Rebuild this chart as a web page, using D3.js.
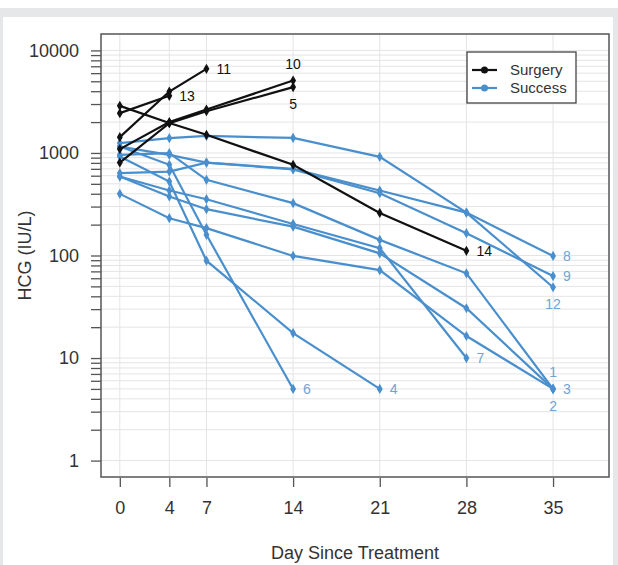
<!DOCTYPE html>
<html>
<head>
<meta charset="utf-8">
<script src="https://cdnjs.cloudflare.com/ajax/libs/d3/7.8.5/d3.min.js"></script>
<style>
    html, body { margin: 0; padding: 0; background: #fff; }
    svg { display: block; font-family: "Liberation Sans", Arial, sans-serif; }
</style>
</head>
<body>
<div id="chart"></div>
<script>
'use strict';

// Data
const days = [0, 4, 7, 14, 21, 28, 35];
const xTicks = [0, 4, 7, 14, 21, 28, 35];
const yTicks = [1, 10, 100, 1000, 10000];

const surgeryIds = ['10', '5', '11', '13', '14'];
const surgeryValues = [
    [1090, 2000, 2650, 5080],
    [806, 1950, 2550, 4385],
    [1426, 3970, 6610],
    [2445, 3610],
    [2880, 1960, 1503, 766, 260, 111]
];

const successIds = ['12', '8', '9', '1', '7', '2', '3', '6', '4'];
const successValues = [
    [1247, 1394, 1466, 1400, 916, 262, 49],
    [635, 658, 806, 700, 430, 262, 99],
    [1154, 958, 806, 690, 405, 165, 63],
    [958, 995, 547, 324, 142, 67, 5],
    [589, 430, 354, 203, 118, 10],
    [589, 376, 283, 191, 105, 30.6, 5],
    [399, 231, 185, 99, 72, 16.4, 5],
    [1154, 766, 159, 5],
    [922, 526, 89, 17.5, 5]
];

const legendLabels = ['Surgery', 'Success'];

/*
Chart
 */
class Chart {

    // Configs
    svgW = 618;
    svgH = 565;
    box = {left: 101, right: 609, top: 34, bottom: 477};
    black = '#111111';
    blue = '#4a8fcd';
    blueText = '#6ea4d6';
    grid = '#e4e4e4';
    textCol = '#333333';

    // where the id sits next to the last point
    labelSide = {
        '10': 'above', '5': 'below', '11': 'right', '13': 'right', '14': 'right',
        '12': 'below', '8': 'right', '9': 'right', '1': 'above', '2': 'below',
        '3': 'right', '7': 'right', '6': 'right', '4': 'right'
    };

    constructor(_target) {
        this.target = _target;
        this.init();
    }

    /*
    1. Init
     */
    init() {
        const vis = this;

        vis.svg = d3.select(`#${vis.target}`)
            .append('svg')
            .attr('width', vis.svgW)
            .attr('height', vis.svgH);

        // Page frame (grey bands of the screenshot)
        vis.svg.append('rect').attr('x', 0).attr('y', 8).attr('width', vis.svgW).attr('height', 9).attr('fill', '#e6e7e9');
        vis.svg.append('rect').attr('x', 0).attr('y', 8).attr('width', 3).attr('height', vis.svgH - 8).attr('fill', '#e6e7e9');
        vis.svg.append('rect').attr('x', 613).attr('y', 8).attr('width', 5).attr('height', vis.svgH - 8).attr('fill', '#e6e7e9');

        // Scales (R style 4% padding: xlim 0..38, ylim 1..10000 on log)
        vis.x = d3.scaleLinear().domain([-1.52, 39.52]).range([vis.box.left, vis.box.right]);
        vis.y = d3.scaleLog().domain([Math.pow(10, -0.16), Math.pow(10, 4.16)]).range([vis.box.bottom, vis.box.top]);

        vis.lineMaker = d3.line()
            .x(d => vis.x(d.day))
            .y(d => vis.y(d.value));

        vis.render();
    }

    /*
    2. Render
     */
    render() {
        const vis = this;
        const b = vis.box;

        // Minor values for grid + ticks
        let minor = [];
        for (let e = 0; e < 4; e++) {
            for (let m = 1; m < 10; m++) minor.push(m * Math.pow(10, e));
        }
        minor.push(10000);

        // Grid
        const gridG = vis.svg.append('g').attr('class', 'grid');
        gridG.selectAll('.hGrid')
            .data(minor)
            .join('line')
            .attr('class', 'hGrid')
            .attr('x1', b.left).attr('x2', b.right)
            .attr('y1', d => vis.y(d)).attr('y2', d => vis.y(d))
            .attr('stroke', vis.grid).attr('stroke-width', 1);
        gridG.selectAll('.vGrid')
            .data(xTicks)
            .join('line')
            .attr('class', 'vGrid')
            .attr('y1', b.top).attr('y2', b.bottom)
            .attr('x1', d => vis.x(d)).attr('x2', d => vis.x(d))
            .attr('stroke', vis.grid).attr('stroke-width', 1);

        // Y axis (ticks only, box draws the line)
        const yAxis = d3.axisLeft(vis.y)
            .tickValues(minor)
            .tickSize(10)
            .tickPadding(12)
            .tickFormat(d => yTicks.includes(d) ? d : '');
        const yG = vis.svg.append('g')
            .attr('transform', `translate(${b.left},0)`)
            .call(yAxis);
        yG.select('.domain').remove();
        yG.selectAll('line').attr('stroke', '#555').attr('stroke-width', 1.3);
        yG.selectAll('text').attr('fill', vis.textCol).style('font-size', '18px');

        // X axis, detached below the box
        const xAxis = d3.axisBottom(vis.x)
            .tickValues(xTicks)
            .tickSize(9)
            .tickPadding(14);
        const xG = vis.svg.append('g')
            .attr('transform', `translate(0,${b.bottom + 1})`)
            .call(xAxis);
        xG.select('.domain').remove();
        xG.selectAll('line').attr('stroke', '#555').attr('stroke-width', 1.3);
        xG.selectAll('text').attr('fill', vis.textCol).style('font-size', '18px');

        // Axis titles
        vis.svg.append('text')
            .attr('x', (b.left + b.right) / 2)
            .attr('y', 559)
            .attr('text-anchor', 'middle')
            .attr('fill', vis.textCol)
            .style('font-size', '18px')
            .text('Day Since Treatment');
        vis.svg.append('text')
            .attr('transform', `translate(31,${(b.top + b.bottom) / 2 + 0}) rotate(-90)`)
            .attr('text-anchor', 'middle')
            .attr('fill', vis.textCol)
            .style('font-size', '18px')
            .text('HCG (IU/L)');

        // Series
        const toPts = vals => vals.map((v, i) => ({day: days[i], value: v}));
        const groups = [
            {ids: successIds, vals: successValues, col: vis.blue, txt: vis.blueText},
            {ids: surgeryIds, vals: surgeryValues, col: vis.black, txt: vis.black}
        ];
        const diamond = d3.symbol().type(d3.symbolDiamond).size(30);

        groups.forEach(grp => {
            const g = vis.svg.append('g');
            grp.vals.forEach((vals, k) => {
                const pts = toPts(vals);
                g.append('path')
                    .attr('d', vis.lineMaker(pts))
                    .attr('fill', 'none')
                    .attr('stroke', grp.col)
                    .attr('stroke-width', 2.2);
                g.selectAll(null)
                    .data(pts)
                    .join('path')
                    .attr('d', diamond)
                    .attr('transform', d => `translate(${vis.x(d.day)},${vis.y(d.value)})`)
                    .attr('fill', grp.col);
                // id label
                const last = pts[pts.length - 1];
                const side = vis.labelSide[grp.ids[k]];
                let lx = vis.x(last.day), ly = vis.y(last.value) + 5, anchor = 'middle';
                if (side === 'right') { lx += 10; anchor = 'start'; }
                if (side === 'above') ly -= 17;
                if (side === 'below') ly += 17;
                g.append('text')
                    .attr('x', lx).attr('y', ly)
                    .attr('text-anchor', anchor)
                    .attr('fill', grp.txt)
                    .style('font-size', '14px')
                    .text(grp.ids[k]);
            });
        });

        // Box
        vis.svg.append('rect')
            .attr('x', b.left).attr('y', b.top)
            .attr('width', b.right - b.left).attr('height', b.bottom - b.top)
            .attr('fill', 'none')
            .attr('stroke', '#555')
            .attr('stroke-width', 1.5);

        // Legend
        const lg = vis.svg.append('g').attr('transform', 'translate(467,52)');
        lg.append('rect')
            .attr('width', 109).attr('height', 51)
            .attr('fill', '#fff')
            .attr('stroke', '#444')
            .attr('stroke-width', 1.3);
        lg.selectAll('.item')
            .data(legendLabels)
            .join('g')
            .attr('class', 'item')
            .attr('transform', (d, i) => `translate(0,${18 + i * 18})`)
            .each(function(d, i) {
                const item = d3.select(this);
                const col = i === 0 ? vis.black : vis.blue;
                item.append('line')
                    .attr('x1', 5).attr('x2', 30)
                    .attr('stroke', col).attr('stroke-width', 2.2);
                item.append('circle')
                    .attr('cx', 17.5).attr('r', 3.5)
                    .attr('fill', col);
                item.append('text')
                    .attr('x', 43).attr('y', 5)
                    .attr('fill', vis.textCol)
                    .style('font-size', '15px')
                    .text(d);
            });
    }
}

new Chart('chart');
</script>
</body>
</html>
